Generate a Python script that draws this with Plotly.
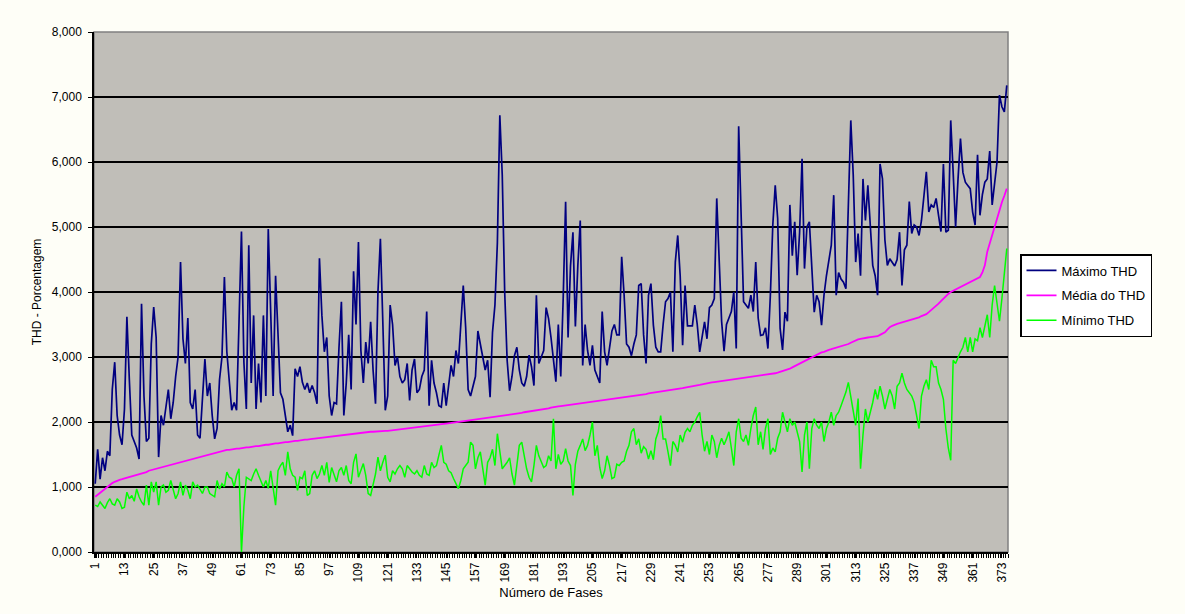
import plotly.graph_objects as go

# ---------------- data ----------------
maximo_thd = [
    1050, 1580, 1120, 1450, 1250, 1550, 1480, 2500, 2920, 2100, 1800, 1650,
    2200, 3620, 2650, 1800, 1700, 1600, 1430, 3820, 2400, 1700, 1750, 3200,
    3770, 3300, 1460, 2100, 1950, 2200, 2500, 2050, 2300, 2700, 3000, 4460,
    3280, 2900, 3600, 2300, 2200, 2500, 1800, 1750, 2300, 2970, 2400, 2600,
    2100, 1740, 1900, 2650, 3000, 4230, 3080, 2600, 2180, 2300, 2180, 3540,
    4930, 2920, 2200,
    4720, 2600, 3640, 2200, 2900, 2300, 3640, 2400, 4970, 3600, 2400, 4250,
    3280, 2450, 2350, 2100, 1850, 1950, 1790, 2820, 2700, 2850, 2610, 2500,
    2600, 2450, 2560, 2450, 2280, 4520, 3640, 3080, 3300, 2400, 2100, 2300,
    2280, 3130, 3850, 2100, 2600, 3340, 2500, 4320, 3500, 4770, 3100, 2600,
    3230, 2900, 3540, 2800, 2280, 4000, 4820, 3540, 2180, 2400, 3800, 3500,
    2870, 3000, 2700,
    2600, 2650, 2900, 2330, 2800, 2970, 2450, 2500, 2700, 2800, 3700, 2250,
    2950, 2600, 2450, 2250, 2230, 2600, 2250, 2560, 2870, 2700, 3100, 2900,
    3450, 4100, 3450, 2500, 2400, 2550, 2700, 3400, 3200, 3000, 2800, 2950,
    2380, 3380, 3800, 4760, 6720, 5800, 4000, 2950, 2480, 2700, 3020, 3150,
    2800, 2600, 2550, 2700, 3030, 2850, 2560, 3950, 2900, 3000, 3100, 3760,
    3590, 3300, 2950,
    2620, 3500, 2700, 3900, 5390, 3300, 4400, 4920, 3470, 4400, 5100, 2870,
    3500, 3100, 2870, 3180, 2800, 2700, 2600, 3700, 3080, 2870, 3100, 3400,
    3500, 3340, 3340, 4540, 3950, 3200, 3150, 3020, 3200, 3340, 4100, 4130,
    3340, 2900, 3950, 4130, 3490, 3150, 3080, 3080, 3500, 3850, 3900, 4000,
    3080, 4460, 4870, 4250, 3180, 4100, 3480, 3480, 3480, 3800, 3500, 3080,
    3340, 3540, 3280,
    3760, 3800, 3900, 5440, 4510, 3550, 3090, 3500, 3600, 3700, 4000, 3130,
    6550, 5130, 3850, 3800, 3750, 3950, 3700, 4460, 3600, 3330, 3340, 3450,
    3130, 3950, 5030, 5640, 5130, 3440, 3110, 3690, 3550, 5340, 4560, 5080,
    4260, 4920, 6050, 4360, 5000, 5080, 4460, 3690, 3950, 3850, 3490, 3950,
    4250, 4460, 4720, 5490, 3950, 4300, 4200, 4150, 4050, 5340, 6640, 5800,
    4460, 4900, 4250,
    5740, 5100, 5640, 5030, 4410, 4250, 3950, 5970, 5740, 4800, 4410, 4510,
    4460, 4400, 4500, 4920, 4100, 4650, 4720, 5390, 4900, 5030, 5000, 4870,
    5100, 5490, 5850, 5230, 5340, 5300, 5440, 5180, 4930, 5970, 4920, 4950,
    6640, 5840, 5000, 5740, 6360, 5840, 5690, 5640, 5590, 5230, 5030, 6110,
    5180, 5500, 5690, 5740, 6170, 5340, 5640, 6000, 7030, 6850, 6770, 7180,
]

media_thd = [
    850, 880, 920, 950, 980, 1000, 1030, 1060, 1080, 1100, 1110, 1120, 1130, 1140, 1150,
    1160, 1170, 1180, 1190, 1200, 1220, 1230, 1250, 1260, 1270, 1280, 1300, 1310, 1320, 1330,
    1340, 1350, 1360, 1370, 1380, 1390, 1400, 1410, 1420, 1430, 1440, 1450, 1460, 1470, 1480,
    1490, 1500, 1510, 1520, 1530, 1540, 1550, 1560, 1560, 1570, 1570, 1580, 1580, 1590, 1590,
    1600, 1600, 1610, 1610, 1620, 1620, 1630, 1630, 1640, 1640, 1650, 1650, 1660, 1660, 1670,
    1670, 1680, 1680, 1690, 1690, 1700, 1700, 1710, 1710, 1720, 1720, 1730, 1730, 1740, 1740,
    1745, 1750, 1755, 1760, 1765, 1770, 1775, 1780, 1785, 1790, 1795, 1800, 1805, 1810, 1815,
    1820, 1825, 1830, 1835, 1840, 1840, 1845, 1845, 1850, 1850, 1855, 1855, 1860, 1860, 1865,
    1865, 1870, 1870, 1875, 1875, 1880, 1885, 1890, 1895, 1900, 1905, 1910, 1915, 1920, 1925,
    1930, 1935, 1940, 1945, 1950, 1955, 1960, 1965, 1970, 1975, 1980, 1985, 1990, 1995, 2000,
    2005, 2010, 2015, 2020, 2025, 2030, 2035, 2040, 2045, 2050, 2055, 2060, 2065, 2070, 2075,
    2080, 2090, 2095, 2100, 2105, 2110, 2115, 2120, 2130, 2135, 2140, 2150, 2155, 2160, 2170,
    2175, 2180, 2190, 2195, 2200, 2205, 2210, 2220, 2230, 2235, 2240, 2245, 2250, 2255, 2260,
    2265, 2270, 2275, 2280, 2285, 2290, 2295, 2300, 2305, 2310, 2315, 2320, 2325, 2330, 2335,
    2340, 2345, 2350, 2355, 2360, 2365, 2370, 2375, 2380, 2390, 2395, 2400, 2410, 2415, 2420,
    2425, 2430, 2440, 2445, 2450, 2455, 2460, 2470, 2475, 2480, 2485, 2490, 2500, 2505, 2510,
    2515, 2520, 2530, 2535, 2540, 2550, 2555, 2560, 2570, 2580, 2590, 2600, 2605, 2610, 2615,
    2620, 2625, 2630, 2635, 2640, 2645, 2650, 2655, 2660, 2670, 2675, 2680, 2685, 2690, 2700,
    2705, 2710, 2715, 2720, 2725, 2730, 2735, 2740, 2745, 2750, 2760, 2770, 2780, 2790, 2800,
    2820, 2840, 2860, 2880, 2900, 2920, 2940, 2960, 2980, 3000, 3010, 3030, 3050, 3070, 3080,
    3100, 3110, 3120, 3130, 3140, 3150, 3170, 3180, 3190, 3200, 3220, 3240, 3250, 3270, 3280,
    3290, 3295, 3300, 3305, 3310, 3315, 3320, 3340, 3360, 3380, 3420, 3460, 3480, 3500, 3510,
    3520, 3530, 3540, 3550, 3560, 3570, 3580, 3590, 3610, 3630, 3640, 3660, 3690, 3720, 3760,
    3790, 3820, 3860, 3900, 3940, 3970, 4000, 4020, 4040, 4060, 4080, 4100, 4120, 4130, 4150,
    4170, 4190, 4210, 4230, 4300, 4410, 4620, 4750, 4870, 5000, 5130, 5250, 5380, 5480, 5590,
]

minimo_thd = [
    720, 700, 770, 720, 670, 760, 820, 740, 720, 820, 770, 670, 690, 920, 820,
    870, 780, 970, 850, 770, 720, 1030, 720, 1080, 920, 1080, 720, 1000, 1030, 920,
    950, 1100, 970, 820, 900, 1080, 870, 1030, 950, 820, 1080, 1000, 1030, 970, 900,
    1000, 1000, 900, 870, 850, 1100, 970, 1050, 1000, 1230, 1150, 1130, 1000, 1180, 1280,
    0, 700, 1150,
    1130, 1100, 1200, 1280, 1180, 1080, 1000, 1100, 980, 1250, 1000, 720, 1250, 1330, 1380,
    1180, 1540, 1280, 1180, 1150, 950, 1150, 1130, 1250, 870, 900, 1180, 1250, 1130, 1200,
    1330, 1180, 1380, 1070, 1300, 1200, 1080, 1250, 1300, 1180, 1330, 1100, 1050, 1380, 1510,
    1150, 1250, 1360, 1180, 900, 870, 1050, 1200, 1460, 1250, 1380, 1490, 1150, 1080, 1250,
    1200, 1280, 1330,
    1280, 1150, 1330, 1280, 1230, 1200, 1250, 1180, 1150, 1330, 1200, 1180, 1380, 1300, 1330,
    1490, 1640, 1380, 1350, 1250, 1220, 1130, 1050, 975, 1100, 1280, 1330, 1380, 1690, 1640,
    1280, 1450, 1540, 1250, 1030, 1380, 1450, 1580, 1330, 1820, 1540, 1280, 1330, 1380, 1450,
    1200, 1030, 1330, 1640, 1690, 1490, 1280, 1150, 1080, 1330, 1640, 1480, 1380, 1300, 1330,
    1480, 1400, 2050,
    1280, 1500, 1350, 1400, 1590, 1400, 1330, 870, 1350, 1550, 1640, 1740, 1560, 1640, 1800,
    2000, 1480, 1640, 1300, 1130, 1250, 1480, 1330, 1130, 1150, 1350, 1330, 1380, 1400, 1550,
    1640, 1850, 1900, 1650, 1740, 1520, 1620, 1580, 1430, 1560, 1420, 1740, 1850, 2100, 1740,
    1740, 1540, 1330, 1700, 1640, 1540, 1800, 1690, 1840, 1900, 1850, 1950, 2000, 2080, 2150,
    1800, 1550, 1700,
    1500, 1800, 1700, 1450, 1640, 1750, 1650, 1740, 1850, 1600, 1330, 1850, 2050, 1750, 1700,
    1800, 1640, 1900, 2100, 2230, 1650, 1850, 1580, 1900, 2050, 1500, 1600, 1540, 1750, 1850,
    2150, 2000, 1850, 2050, 1950, 2000, 1850, 1700, 1230, 1800, 2000, 1280, 1900, 2050, 1950,
    1900, 2000, 1700, 1900, 2000, 2150, 1950, 2100, 2150, 2250, 2350, 2460, 2610, 2400, 2200,
    1950, 2360, 1280,
    1800, 2200, 2000, 2150, 2300, 2500, 2350, 2550, 2400, 2200, 2350, 2500, 2400, 2200, 2550,
    2600, 2750, 2600, 2500, 2450, 2400, 2300, 2100, 1900, 2400, 2550, 2650, 2500, 2950, 2850,
    2850, 2600, 2500, 2350, 1900, 1600, 1410, 2950, 2900, 3000, 3080, 3150, 3300, 3080, 3300,
    3080, 3280, 3250, 3450, 3300, 3500, 3650, 3300, 3800, 4100, 3850, 3550, 3900, 4310, 4670,
]

fases = list(range(1, len(maximo_thd) + 1))
tick_fases = list(range(1, len(fases) + 1, 12))
y_ticks = [0, 1000, 2000, 3000, 4000, 5000, 6000, 7000, 8000]
y_tick_text = ["0,000", "1,000", "2,000", "3,000", "4,000", "5,000", "6,000", "7,000", "8,000"]

series = [
    ("Máximo THD", maximo_thd, "#000080", 1.7),
    ("Média do THD", media_thd, "#FF00FF", 1.8),
    ("Mínimo THD", minimo_thd, "#00FF00", 1.5),
]

FONT = "Liberation Sans, Arial, sans-serif"

fig = go.Figure()
for name, vals, color, width in series:
    fig.add_trace(go.Scatter(
        x=fases, y=vals, mode="lines", name=name, legendgroup=name,
        line=dict(color=color, width=width),
    ))

fig.update_layout(
    width=1185, height=614,
    margin=dict(l=94, r=177, t=32, b=62),
    paper_bgcolor="#FEFEF7",
    plot_bgcolor="#C0BEB8",
    font=dict(family=FONT, color="#000000", size=12),
    showlegend=True,
    legend=dict(
        xref="container", yref="container",
        x=1020 / 1185, y=1 - 254 / 614, xanchor="left", yanchor="top",
        bgcolor="#FFFFFF", bordercolor="#000000", borderwidth=1.5,
        font=dict(family=FONT, size=13, color="#000000"),
        tracegroupgap=5, traceorder="grouped",
    ),
    xaxis=dict(
        range=[0.5, len(fases) + 0.5],
        tickmode="array", tickvals=tick_fases, ticktext=[str(v) for v in tick_fases],
        tickangle=-90, tickfont=dict(size=12, family=FONT),
        ticks="outside", ticklen=4, tickcolor="#000000",
        minor=dict(dtick=1, tick0=0.5, ticks="outside", ticklen=4, tickcolor="#000000", showgrid=False),
        showgrid=False, zeroline=False,
        showline=True, linecolor="#000000", linewidth=1.5,
        title=dict(text="Número de Fases", font=dict(size=13, family=FONT), standoff=6),
    ),
    yaxis=dict(
        range=[0, 8000],
        tickmode="array", tickvals=y_ticks, ticktext=y_tick_text,
        tickfont=dict(size=12, family=FONT),
        ticks="outside", ticklen=4, tickcolor="#000000",
        showgrid=True, gridcolor="#000000", gridwidth=1.5,
        zeroline=False,
        showline=True, linecolor="#000000", linewidth=1.5,
        ticklabelstandoff=4,
        title=dict(text="THD - Porcentagem", font=dict(size=12, family=FONT), standoff=8),
    ),
    shapes=[dict(type="rect", xref="paper", yref="paper", x0=0, x1=1, y0=0, y1=1,
                 line=dict(color="#808080", width=1.5), layer="below")],
)

fig.write_html("out.html")
